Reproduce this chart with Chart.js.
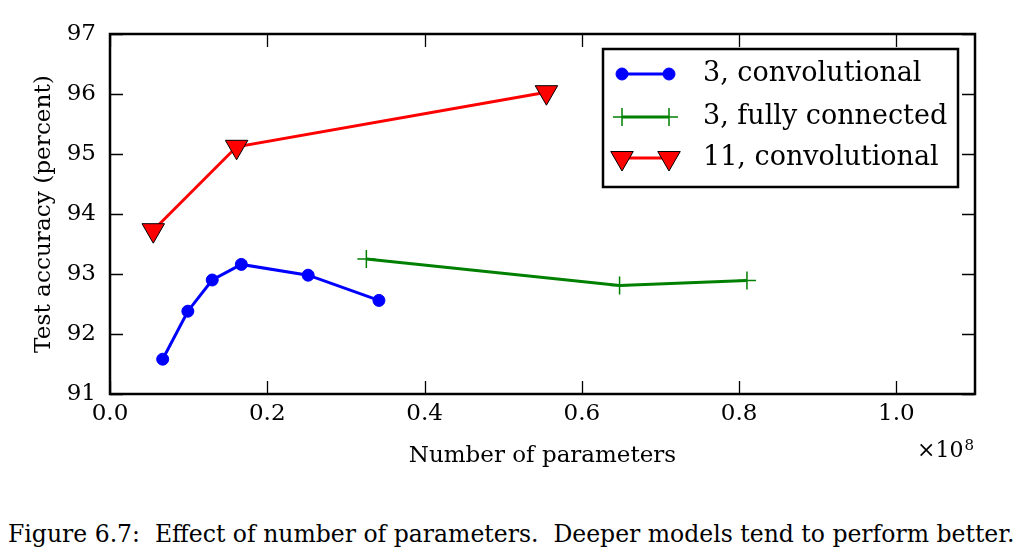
<!DOCTYPE html>
<html lang="en">
<head>
    <meta charset="UTF-8">
    <title>Effect of number of parameters</title>
    <style>
        body {
            margin: 0;
            background: #fff;
            width: 1027px;
            height: 555px;
            overflow: hidden;
            position: relative;
        }
        #chart-container {
            position: absolute;
            left: 0;
            top: 0;
            width: 1027px;
            height: 470px;
        }
        #caption {
            position: absolute;
            left: 8px;
            top: 523px;
            font-family: "DejaVu Serif", serif;
            font-size: 20px;
            line-height: 1;
            white-space: pre;
            color: #000;
        }
    </style>
    <script src="https://cdn.jsdelivr.net/npm/chart.js"></script>
</head>
<body>

    <div id="chart-container">
        <canvas id="paramsChart"></canvas>
    </div>
    <div id="caption">Figure 6.7:  Effect of number of parameters.  Deeper models tend to perform better.</div>

    <script>
        // x values are in units of 1e8 parameters (axis shows x10^8)
        var convX = [0.067, 0.099, 0.130, 0.167, 0.252, 0.342];
        var convY = [91.58, 92.38, 92.90, 93.16, 92.98, 92.56];
        var fcX = [0.326, 0.648, 0.810];
        var fcY = [93.25, 92.81, 92.89];
        var deepX = [0.055, 0.161, 0.555];
        var deepY = [93.73, 95.12, 96.03];
        var seriesNames = ["3, convolutional", "3, fully connected", "11, convolutional"];
        var xTitle = "Number of parameters";
        var yTitle = "Test accuracy (percent)";

        var serif = "'DejaVu Serif', serif";

        // stretch the caption to the same width as in the figure
        var caption = document.getElementById('caption');
        caption.style.fontSize = (20 * 1007 / caption.offsetWidth) + 'px';

        function points(xs, ys) {
            var out = [];
            for (var i = 0; i < xs.length; i++) {
                out.push({ x: xs[i], y: ys[i] });
            }
            return out;
        }

        // frame, inward ticks on all four sides, legend and the x10^8 offset text
        var framePlugin = {
            id: 'frame',
            afterDraw: function (chart) {
                var ctx = chart.ctx;
                var a = chart.chartArea;
                var xs = chart.scales.x, ys = chart.scales.y;
                var tl = 13;
                ctx.save();
                ctx.strokeStyle = '#000';
                ctx.lineWidth = 1.3;
                ctx.beginPath();
                xs.ticks.forEach(function (t) {
                    var px = Math.round(xs.getPixelForValue(t.value)) + 0.5;
                    ctx.moveTo(px, a.bottom); ctx.lineTo(px, a.bottom - tl);
                    ctx.moveTo(px, a.top); ctx.lineTo(px, a.top + tl);
                });
                ys.ticks.forEach(function (t) {
                    var py = Math.round(ys.getPixelForValue(t.value)) + 0.5;
                    ctx.moveTo(a.left, py); ctx.lineTo(a.left + tl, py);
                    ctx.moveTo(a.right, py); ctx.lineTo(a.right - tl, py);
                });
                ctx.stroke();
                ctx.lineWidth = 2.5;
                ctx.strokeRect(a.left, a.top, a.right - a.left, a.bottom - a.top);

                // legend box
                var bx = 603, by = 49, bw = 355, bh = 138;
                ctx.fillStyle = '#fff';
                ctx.fillRect(bx, by, bw, bh);
                ctx.lineWidth = 2.5;
                ctx.strokeRect(bx, by, bw, bh);
                var rows = [74, 117, 158];
                chart.data.datasets.forEach(function (ds, i) {
                    var y = rows[i];
                    ctx.strokeStyle = ds.borderColor;
                    ctx.lineWidth = ds.borderWidth;
                    ctx.beginPath();
                    ctx.moveTo(622, y);
                    ctx.lineTo(669, y);
                    ctx.stroke();
                    var style = {
                        pointStyle: ds.pointStyle,
                        rotation: ds.pointRotation || 0,
                        radius: ds.pointRadius,
                        borderWidth: ds.pointBorderWidth
                    };
                    [622, 669].forEach(function (px) {
                        ctx.fillStyle = ds.pointBackgroundColor;
                        ctx.strokeStyle = ds.pointBorderColor;
                        ctx.lineWidth = ds.pointBorderWidth;
                        Chart.helpers.drawPoint(ctx, style, px, y);
                    });
                    ctx.fillStyle = '#000';
                    ctx.font = '27px ' + serif;
                    ctx.textBaseline = 'middle';
                    ctx.textAlign = 'left';
                    ctx.fillText(ds.label, 703, y);
                });

                // offset text
                ctx.fillStyle = '#000';
                ctx.textBaseline = 'alphabetic';
                ctx.textAlign = 'left';
                ctx.font = '22px ' + serif;
                ctx.fillText('\u00d710', 917, 457);
                var w = ctx.measureText('\u00d710').width;
                ctx.font = '15px ' + serif;
                ctx.fillText('8', 917 + w + 1, 450);
                ctx.restore();
            }
        };

        var ctx = document.getElementById('paramsChart').getContext('2d');
        var paramsChart = new Chart(ctx, {
            type: 'scatter',
            data: {
                datasets: [{
                    label: seriesNames[0],
                    data: points(convX, convY),
                    showLine: true,
                    borderColor: '#0000ff',
                    borderWidth: 3,
                    pointStyle: 'circle',
                    pointRadius: 6,
                    pointBackgroundColor: '#0000ff',
                    pointBorderColor: '#0000ff',
                    pointBorderWidth: 1
                }, {
                    label: seriesNames[1],
                    data: points(fcX, fcY),
                    showLine: true,
                    borderColor: '#008000',
                    borderWidth: 3,
                    pointStyle: 'cross',
                    pointRadius: 9,
                    pointBackgroundColor: '#008000',
                    pointBorderColor: '#008000',
                    pointBorderWidth: 1.5
                }, {
                    label: seriesNames[2],
                    data: points(deepX, deepY),
                    showLine: true,
                    borderColor: '#ff0000',
                    borderWidth: 3,
                    pointStyle: 'triangle',
                    pointRotation: 180,
                    pointRadius: 13,
                    pointBackgroundColor: '#ff0000',
                    pointBorderColor: '#000000',
                    pointBorderWidth: 1
                }]
            },
            options: {
                responsive: true,
                maintainAspectRatio: false,
                animation: false,
                layout: {
                    padding: { left: 30, right: 52, top: 34, bottom: 0 }
                },
                plugins: {
                    legend: { display: false },
                    tooltip: { enabled: false }
                },
                scales: {
                    x: {
                        type: 'linear',
                        min: 0,
                        max: 1.1,
                        grid: { display: false, drawTicks: false },
                        border: { display: false },
                        ticks: {
                            stepSize: 0.2,
                            includeBounds: false,
                            padding: 6,
                            color: '#000',
                            font: { family: serif, size: 23 },
                            callback: function (v) { return v.toFixed(1); }
                        },
                        title: {
                            display: true,
                            text: xTitle,
                            color: '#000',
                            padding: 0,
                            font: { family: serif, size: 23 }
                        },
                        afterFit: function (scale) { scale.height = 76; }
                    },
                    y: {
                        min: 91,
                        max: 97,
                        grid: { display: false, drawTicks: false },
                        border: { display: false },
                        ticks: {
                            stepSize: 1,
                            padding: 14,
                            color: '#000',
                            font: { family: serif, size: 23 }
                        },
                        title: {
                            display: true,
                            text: yTitle,
                            color: '#000',
                            padding: 0,
                            font: { family: serif, size: 23.2 }
                        },
                        afterFit: function (scale) { scale.width = 80; }
                    }
                }
            },
            plugins: [framePlugin]
        });
    </script>

</body>
</html>
